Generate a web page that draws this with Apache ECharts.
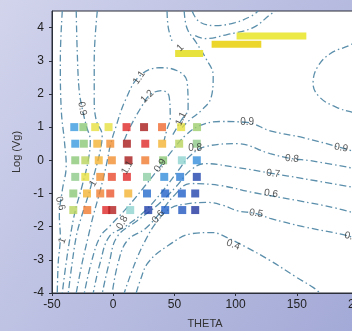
<!DOCTYPE html>
<html>
<head>
<meta charset="utf-8">
<title>THETA - Log (Vg)</title>
<script src="https://cdn.jsdelivr.net/npm/echarts@6/dist/echarts.min.js"></script>
<style>
    html, body { margin: 0; padding: 0; }
    body {
        width: 352px; height: 331px; overflow: hidden;
        background: linear-gradient(125deg, #d2d4ec 0%, #bcc0e2 45%, #a4aad7 100%);
    }
    #chart { width: 352px; height: 331px; }
</style>
</head>
<body>
<div id="chart"></div>
<script>
// 方块: 每行的 THETA 位置和颜色等级
var logVgRows = [1, 0.5, 0, -0.5, -1, -1.5];
var thetaRows = [
    [-31.8, -24.4, -14.7, -3.8, 10.9, 25.2, 39.9, 55.5, 68.5],
    [-31.0, -24.0, -13.0, -2.4, 11.2, 26.2, 40.0, 53.9, 68.3],
    [-31.0, -22.8, -11.8, -1.1, 12.5, 26.2, 40.8, 56.1, 68.3],
    [-31.0, -22.8, -10.6, -1.1, 11.2, 27.6, 41.7, 54.7, 68.3],
    [-32.6, -21.4, -10.6, -2.4, 12.3, 27.6, 42.5, 56.1, 67.0],
    [-32.6, -21.2, -5.7, -0.8, 13.9, 28.6, 42.5, 56.4, 67.0]
];
var levelRows = [
    [2, 4, 5, 5, 8, 9, 7, 5, 4.2],
    [2, 4, 6, 6.5, 9, 8, 6, 4.5, 3.8],
    [4, 4.5, 6, 6.5, 9, 6.8, 4, 3, 1.8],
    [3.8, 5, 6.5, 7.5, 8, 3.5, 1.8, 1.5, 0.4],
    [4, 6, 6.7, 7.3, 6, 1.2, 1, 1, 0.4],
    [4.5, 6.8, 8, 8.8, 3, 0.3, 1, 0.8, 0.1]
];

// 黄色横条
var barStart = [100.8, 80.4, 50.6];
var barEnd = [157.8, 121.0, 73.5];
var barLevel = [3.75, 3.5, 3.22];

// 等值线 [THETA, Log(Vg)]
var contourA = [[-41.6, 4.5], [-43.2, 3], [-42.4, 1.5], [-39.9, 0.59], [-38.4, -0.16], [-41.6, -0.91], [-44, -1.67], [-43.2, -2.3], [-44.9, -3.08], [-45.7, -4]];
var contourB = [[-30.2, 4.5], [-29.4, 3.3], [-27.8, 2.1], [-25.3, 1.56], [-22, 1.04], [-18.7, 0.59], [-20.4, 0], [-25.3, -0.76], [-31, -1.52], [-35.1, -2.3], [-38.4, -3.08], [-41.6, -4]];
var contourC = [[-13, 4.5], [-15.5, 3], [-15.5, 1.8], [-13.8, 1.2], [-9, 0.75], [-10.6, 0.29], [-14.7, -0.31], [-20.4, -1.06], [-26.9, -1.82], [-30.2, -2.3], [-33.5, -3.08], [-36.7, -4]];
var contour11 = [[-30.2, -4], [-25.3, -3.08], [-20.4, -2.3], [-16.3, -1.67], [-10.6, -0.91], [-5.7, -0.16], [-2.4, 0.44], [1.7, 0.95], [9.8, 1.8], [21.3, 2.53], [37.6, 2.79], [52.3, 2.7], [60.4, 2.37], [61.2, 1.56], [55.5, 1.2], [48.2, 0.74]];
var contour12 = [[9, 0.6], [13.1, 0.95], [23.7, 1.65], [30.2, 1.98], [40, 2.1], [45.7, 1.92], [46.6, 1.26], [44.1, 0.95], [41.6, 0.6]];
var contourOuter = [[58, 4.5], [60.4, 3.97], [67.8, 3.55], [75.9, 3.06], [81.7, 2.55], [80, 1.89], [71.9, 1.5], [62.9, 1.23], [56.3, 0.99]];
var contourShort = [[44, 4.5], [45, 4.0], [48, 3.6]];
var contourTop1 = [[64.5, 4.5], [70.2, 4.18], [83.3, 4.06], [99.6, 4.15], [113.5, 4.36], [118.4, 4.5]];
var contourTop2 = [[67, 3.76], [75.1, 3.67], [93.1, 3.79], [114.3, 4.0], [128.2, 4.39], [132.3, 4.5]];
var contourRight = [[202, 3.7], [195, 3.5], [177.2, 3.21], [166.6, 2.79], [163.3, 2.31], [169, 1.89], [182.9, 1.59], [195, 1.45], [202, 1.4]];
var contour09 = [[202, 0.2], [186.1, 0.38], [155.2, 0.68], [128.2, 0.89], [109.5, 1.14], [87.4, 1.17], [71.1, 1.05], [58.8, 0.74], [48.2, 0.29], [38.4, -0.19], [26.2, -0.76], [11.5, -1.42], [-2.4, -1.97], [-10.6, -2.3], [-17.9, -3.08], [-23.6, -4]];
var contour08 = [[202, -0.28], [160.8, -0.01], [146.1, 0.05], [128.2, 0.2], [101.3, 0.5], [75.1, 0.41], [62.9, 0.14], [53.1, -0.31], [40.8, -0.91], [26.2, -1.52], [9.8, -2.0], [-3.2, -2.3], [-10.6, -3.08], [-16.3, -4]];
var contour07 = [[202, -0.85], [155.2, -0.55], [130.7, -0.4], [101.3, -0.22], [75.1, -0.1], [62.9, -0.31], [51.5, -0.79], [36.8, -1.33], [19.6, -1.82], [3.3, -2.3], [-3.2, -3.08], [-8.9, -4]];
var contour06 = [[202, -1.65], [182.9, -1.45], [150.2, -1.21], [114.3, -0.97], [87.4, -0.76], [62.9, -0.7], [49.9, -1.06], [38.4, -1.58], [26.2, -2.06], [11.5, -2.42], [4.1, -3.08], [-0.8, -4]];
var contour05 = [[202, -2.42], [191.1, -2.27], [155.2, -2.0], [128.2, -1.75], [116, -1.6], [101.3, -1.52], [89.9, -1.36], [76.8, -1.27], [62.9, -1.3], [46.6, -1.45], [35.1, -1.88], [26.2, -2.42], [18, -3.08], [9, -4]];
var contour04 = [[18.8, -4], [22.1, -3.62], [28.6, -3.08], [44.9, -2.57], [64.5, -2.21], [80.9, -2.18], [94.7, -2.36], [107.8, -2.6], [128.2, -3.02], [148.6, -3.5], [163.3, -3.83], [169, -4]];

// 等值线标注
var labelText = ['0.9', '1.1', '1.2', '1.1', '1', '0.9', '0.9', '0.8', '0.7', '0.6', '0.5', '0.5', '0.4', '0.6', '1', '0.8', '0.6', '0.9', '0.8', '1', '1.1'];
var labelTheta = [-25.3, 21.3, 27.8, 55.5, 54.7, 109.5, 186.1, 146.1, 130.7, 129.0, 116.8, 194.5, 98.0, -43.2, -41.6, 7.4, 36.8, 38.4, 67, -16.3, 11.5];
var labelV = [1.56, 2.49, 1.92, 1.25, 3.39, 1.14, 0.38, 0.05, -0.4, -1.0, -1.6, -2.3, -2.55, -1.3, -2.42, -1.88, -1.7, -0.16, 0.35, -0.7, -0.22];
var labelAngle = [-80, 55, 45, 65, 45, 0, -10, -6, -6, -8, -10, -12, -20, -75, 70, 60, 50, 55, 0, 60, 60];

var contours = [contourA, contourB, contourC, contour11, contour12, contourOuter, contourShort,
    contourTop1, contourTop2, contourRight, contour09, contour08, contour07, contour06, contour05, contour04];

var jet = ['#1f2f9a', '#2060c8', '#3a9ae0', '#8fd3d0', '#8cc878', '#e6e040', '#f2b332', '#ef6a30', '#e02828', '#a81c1c'];
var barColors = ['#ece845', '#ecd62c', '#e8e23e'];

function buildOption() {
    var series = [];
    for (var i = 0; i < contours.length; i++) {
        series.push({
            type: 'line',
            data: contours[i],
            smooth: 0.4,
            showSymbol: false,
            silent: true,
            lineStyle: {color: '#5b8fab', width: 1.3, type: [7, 3, 1.5, 3]},
            z: 2
        });
    }
    for (var b = 0; b < barLevel.length; b++) {
        series.push({
            type: 'line',
            data: [[barStart[b], barLevel[b]], [barEnd[b], barLevel[b]]],
            showSymbol: false,
            silent: true,
            lineStyle: {color: barColors[b], width: 7, cap: 'butt', type: 'solid'},
            z: 3
        });
    }
    var squares = [];
    for (var r = 0; r < logVgRows.length; r++) {
        for (var c = 0; c < thetaRows[r].length; c++) {
            squares.push([thetaRows[r][c], logVgRows[r], levelRows[r][c]]);
        }
    }
    var squareIndex = series.length;
    series.push({
        type: 'scatter',
        data: squares,
        symbol: 'rect',
        symbolSize: 8,
        silent: true,
        z: 4
    });
    var labels = [];
    for (var k = 0; k < labelText.length; k++) {
        labels.push({
            name: labelText[k],
            value: [labelTheta[k], labelV[k]],
            label: {rotate: labelAngle[k]}
        });
    }
    series.push({
        type: 'scatter',
        data: labels,
        symbolSize: 0,
        silent: true,
        label: {
            show: true,
            position: 'inside',
            formatter: '{b}',
            fontSize: 10,
            color: '#2e2e2e',
            fontFamily: 'Liberation Sans'
        },
        z: 5
    });

    return {
        animation: false,
        textStyle: {fontFamily: 'Liberation Sans'},
        grid: {
            left: 52, top: 11, height: 282, width: 306,
            outerBoundsMode: 'none',
            show: true, backgroundColor: '#ffffff',
            borderColor: '#2b2f3a', borderWidth: 1
        },
        visualMap: {
            show: false,
            seriesIndex: squareIndex,
            dimension: 2,
            min: 0,
            max: 9,
            inRange: {color: jet}
        },
        xAxis: {
            type: 'value',
            min: -50, max: 200, interval: 50,
            name: 'THETA',
            nameLocation: 'middle',
            nameGap: 25,
            nameTextStyle: {fontSize: 11, color: '#333'},
            axisLine: {onZero: false, lineStyle: {color: '#2b2f3a', width: 1}},
            axisTick: {length: 3, lineStyle: {color: '#2b2f3a'}},
            axisLabel: {fontSize: 12, color: '#222', margin: 6},
            splitLine: {show: false}
        },
        yAxis: {
            type: 'value',
            min: -4, max: 4.5, interval: 1,
            name: 'Log (Vg)',
            nameLocation: 'middle',
            nameGap: 28,
            nameTextStyle: {fontSize: 11, color: '#333'},
            axisLine: {onZero: false, lineStyle: {color: '#2b2f3a', width: 1}},
            axisTick: {length: 3, lineStyle: {color: '#2b2f3a'}},
            axisLabel: {fontSize: 12, color: '#222', margin: 8, showMaxLabel: false},
            splitLine: {show: false}
        },
        series: series
    };
}

var myChart = echarts.init(document.getElementById('chart'));
myChart.setOption(buildOption());
</script>
</body>
</html>
